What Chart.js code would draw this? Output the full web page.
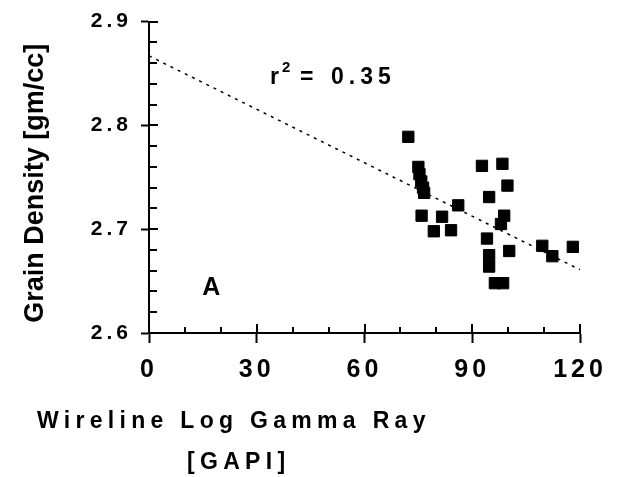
<!DOCTYPE html>
<html>
<head>
<meta charset="utf-8">
<script src="https://cdn.jsdelivr.net/npm/chart.js@4"></script>
<style>
  html, body { margin: 0; padding: 0; background: #fff; }
  canvas { display: block; }
</style>
</head>
<body>
<canvas id="grainChart" width="627" height="477"></canvas>
<script>
  // data
  const gammaRay = [72.2, 75.0, 75.3, 75.8, 76.3, 76.6, 75.9, 81.6, 79.3, 84.1, 86.1,
    92.7, 98.4, 99.8, 94.7, 98.9, 98.0, 94.1, 100.3, 94.7, 94.7, 96.3, 98.6,
    109.5, 112.3, 118.0];
  const grainDensity = [2.789, 2.760, 2.753, 2.746, 2.740, 2.735, 2.713, 2.712, 2.698, 2.699, 2.723,
    2.761, 2.763, 2.742, 2.731, 2.713, 2.705, 2.691, 2.679, 2.675, 2.664, 2.648, 2.648,
    2.684, 2.674, 2.683];

  // regression line end points
  const fitX = [0, 120];
  const fitY = [2.867, 2.661];

  const xTicks = [0, 30, 60, 90, 120];
  const yTicks = [2.6, 2.7, 2.8, 2.9];
  const xMinorStep = 10;
  const yMinorStep = 0.02;

  const rSquared = "0.35";
  const panelLabel = "A";
  const xTitle = ["Wireline Log Gamma Ray", "[GAPI]"];
  const yTitle = "Grain Density [gm/cc]";

  const FONT = "'Liberation Sans', Arial, Helvetica, sans-serif";

  const scatterPts = gammaRay.map((g, i) => ({ x: g, y: grainDensity[i] }));
  const fitPts = fitX.map((g, i) => ({ x: g, y: fitY[i] }));

  // spaced-out lettering like the original
  const letterSpacing = {
    id: "letterSpacing",
    beforeDraw(chart) {
      chart.ctx.letterSpacing = "4px";
    }
  };

  // small tick marks pointing into the plot
  const innerTicks = {
    id: "innerTicks",
    afterDraw(chart) {
      const { ctx, chartArea, scales } = chart;
      const x = scales.x, y = scales.y;
      ctx.save();
      ctx.strokeStyle = "#000";
      ctx.lineWidth = 2;
      ctx.beginPath();
      for (let v = x.min; v <= x.max + 1e-6; v += xMinorStep) {
        const px = Math.round(x.getPixelForValue(v));
        const major = xTicks.some(t => Math.abs(t - v) < 1e-6);
        ctx.moveTo(px, chartArea.bottom);
        ctx.lineTo(px, chartArea.bottom - (major ? 9 : 6));
      }
      for (let v = y.min; v <= y.max + 1e-6; v += yMinorStep) {
        const py = Math.round(y.getPixelForValue(v));
        const major = yTicks.some(t => Math.abs(t - v) < 1e-6);
        ctx.moveTo(chartArea.left, py);
        ctx.lineTo(chartArea.left + (major ? 9 : 8), py);
      }
      ctx.stroke();
      ctx.restore();
    }
  };

  // titles and labels on the plot
  const labels = {
    id: "labels",
    afterDraw(chart) {
      const { ctx, chartArea, scales } = chart;
      const x = scales.x, y = scales.y;
      ctx.save();
      ctx.fillStyle = "#000";
      ctx.textBaseline = "alphabetic";
      ctx.textAlign = "left";

      // r^2 = 0.35
      const rx = x.getPixelForValue(33.7);
      const ry = y.getPixelForValue(2.840);
      ctx.letterSpacing = "0px";
      ctx.font = "bold 23px " + FONT;
      ctx.fillText("r", rx, ry);
      ctx.font = "bold 15px " + FONT;
      ctx.fillText("2", rx + 12, ry - 12);
      ctx.font = "bold 23px " + FONT;
      ctx.fillText("=", rx + 30, ry);
      ctx.letterSpacing = "5px";
      ctx.fillText(rSquared, rx + 61, ry);

      // panel letter
      ctx.letterSpacing = "0px";
      ctx.font = "bold 25px " + FONT;
      ctx.fillText(panelLabel, x.getPixelForValue(14.8), y.getPixelForValue(2.6363));

      // x axis title, two lines
      ctx.font = "bold 23px " + FONT;
      ctx.letterSpacing = "5.3px";
      ctx.fillText(xTitle[0], 37, 428);
      ctx.fillText(xTitle[1], 187, 469);

      // y axis title
      ctx.letterSpacing = "0px";
      ctx.font = "bold 27px " + FONT;
      ctx.translate(43, (chartArea.top + chartArea.bottom) / 2 + 6);
      ctx.rotate(-Math.PI / 2);
      ctx.textAlign = "center";
      ctx.fillText(yTitle, 0, 0);
      ctx.restore();
    }
  };

  const ctx = document.getElementById("grainChart").getContext("2d");
  const chart = new Chart(ctx, {
    type: "scatter",
    data: {
      datasets: [
        {
          label: "samples",
          data: scatterPts,
          pointStyle: "rect",
          pointRadius: 8,
          pointHoverRadius: 8,
          backgroundColor: "#000",
          borderColor: "#000",
          borderWidth: 1
        },
        {
          label: "fit",
          data: fitPts,
          showLine: true,
          borderColor: "#000",
          borderWidth: 1.5,
          borderDash: [3, 5],
          pointRadius: 0,
          fill: false
        }
      ]
    },
    options: {
      responsive: false,
      animation: false,
      layout: { padding: { left: 0, top: 21, right: 47, bottom: 0 } },
      plugins: {
        legend: { display: false },
        tooltip: { enabled: false }
      },
      scales: {
        x: {
          type: "linear",
          min: 0,
          max: 120,
          afterBuildTicks: (s) => { s.ticks = xTicks.map(v => ({ value: v })); },
          afterFit: (s) => { s.height = 144; },
          ticks: {
            color: "#000",
            padding: 12,
            maxRotation: 0,
            font: { family: FONT, size: 25, weight: "bold" }
          },
          grid: {
            drawOnChartArea: false,
            drawTicks: true,
            tickLength: 10,
            tickWidth: 2,
            tickColor: "#000"
          },
          border: { color: "#000", width: 2 }
        },
        y: {
          type: "linear",
          min: 2.6,
          max: 2.9,
          afterBuildTicks: (s) => { s.ticks = yTicks.map(v => ({ value: v })); },
          afterFit: (s) => { s.width = 149; },
          ticks: {
            color: "#000",
            padding: 9,
            callback: (v) => v.toFixed(1),
            font: { family: FONT, size: 21, weight: "bold" }
          },
          grid: {
            drawOnChartArea: false,
            drawTicks: true,
            tickLength: 8,
            tickWidth: 2,
            tickColor: "#000"
          },
          border: { color: "#000", width: 2 }
        }
      }
    },
    plugins: [letterSpacing, innerTicks, labels]
  });
</script>
</body>
</html>
